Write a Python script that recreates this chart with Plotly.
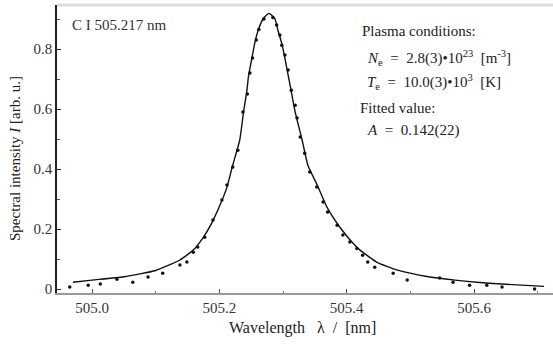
import plotly.graph_objects as go

# Fitted line
fit_x = [504.970, 505.000, 505.050, 505.100, 505.138, 505.159, 505.174, 505.188,
         505.201, 505.212, 505.221, 505.232, 505.238, 505.243, 505.246, 505.251,
         505.256, 505.261, 505.269, 505.278, 505.287, 505.292, 505.298, 505.303,
         505.308, 505.313, 505.319, 505.330, 505.339, 505.353, 505.369, 505.389,
         505.410, 505.421, 505.447, 505.480, 505.526, 505.570, 505.609, 505.650,
         505.710]
fit_y = [0.023, 0.030, 0.041, 0.062, 0.097, 0.130, 0.170, 0.220,
         0.280, 0.340, 0.413, 0.497, 0.591, 0.658, 0.713, 0.769,
         0.824, 0.863, 0.902, 0.919, 0.902, 0.863, 0.819, 0.769,
         0.713, 0.658, 0.591, 0.497, 0.413, 0.350, 0.273, 0.207,
         0.153, 0.130, 0.090, 0.063, 0.042, 0.030, 0.022, 0.016,
         0.009]

pt_x = [504.965, 504.994, 505.013, 505.039, 505.064, 505.088, 505.111, 505.138,
        505.149, 505.159, 505.166, 505.177, 505.190, 505.204, 505.212, 505.221,
        505.229, 505.237, 505.244, 505.248, 505.252, 505.258, 505.262, 505.270,
        505.284, 505.290, 505.295, 505.298, 505.303, 505.308, 505.313, 505.319,
        505.322, 505.327, 505.334, 505.342, 505.353, 505.363, 505.370, 505.385,
        505.394, 505.405, 505.416, 505.425, 505.433, 505.444, 505.473, 505.495,
        505.546, 505.567, 505.593, 505.620, 505.644, 505.695]
pt_y = [0.007, 0.013, 0.017, 0.033, 0.023, 0.040, 0.053, 0.080,
        0.090, 0.123, 0.140, 0.173, 0.230, 0.297, 0.347, 0.407,
        0.463, 0.590, 0.650, 0.720, 0.770, 0.830, 0.865, 0.900,
        0.905, 0.880, 0.847, 0.813, 0.780, 0.730, 0.663, 0.613,
        0.570, 0.507, 0.453, 0.390, 0.340, 0.290, 0.257, 0.213,
        0.180, 0.157, 0.135, 0.113, 0.090, 0.073, 0.053, 0.030,
        0.037, 0.023, 0.013, 0.013, 0.007, 0.000]

x_ticks = [505.0, 505.2, 505.4, 505.6]
x_tick_text = ["505.0", "505.2", "505.4", "505.6"]
y_ticks = [0, 0.2, 0.4, 0.6, 0.8]
y_tick_text = ["0", "0.2", "0.4", "0.6", "0.8"]

FONT = "Liberation Serif"
L, T, W, H = 57, 5, 496, 288  # plot area in pixels

fig = go.Figure()
fig.add_trace(go.Scatter(x=fit_x, y=fit_y, mode="lines", line=dict(color="#111", width=1.4),
                         line_shape="spline", line_smoothing=0.5,
                         hoverinfo="skip", showlegend=False))
fig.add_trace(go.Scatter(x=pt_x, y=pt_y, mode="markers",
                         marker=dict(color="#111", size=3.5, symbol="circle"),
                         showlegend=False))

fig.update_layout(
    width=553, height=345,
    margin=dict(l=L, r=553 - L - W, t=T, b=345 - T - H),
    paper_bgcolor="white", plot_bgcolor="white",
    font=dict(family=FONT, size=15, color="#222"),
    xaxis=dict(range=[504.945, 505.724], tickvals=x_ticks, ticktext=x_tick_text,
               showgrid=False, zeroline=False, showline=True, linecolor="#999", linewidth=1.5,
               ticks="inside", ticklen=4, tickcolor="#555",
               minor=dict(ticks="inside", ticklen=2, dtick=0.1, tickcolor="#777"),
               tickfont=dict(family=FONT, size=15, color="#333")),
    yaxis=dict(range=[-0.013, 0.947], tickvals=y_ticks, ticktext=y_tick_text,
               showgrid=False, zeroline=False, showline=True, linecolor="#222", linewidth=1.5,
               ticks="inside", ticklen=4, tickcolor="#333",
               minor=dict(ticks="inside", ticklen=3, dtick=0.1, tickcolor="#555"),
               tickfont=dict(family=FONT, size=15, color="#333")),
)

fig.add_shape(type="line", xref="paper", yref="paper", x0=0, x1=1, y0=1.0, y1=1.0,
              line=dict(color="#ddd", width=3))


def px2paper(px, py):
    return (px - L) / W, 1 - (py - T) / H


# axis titles placed as text
ax, ay = px2paper(302, 328)
fig.add_annotation(xref="paper", yref="paper", x=ax, y=ay, xanchor="center", yanchor="middle",
                   text="Wavelength   λ  /  [nm]", showarrow=False,
                   font=dict(family=FONT, size=16, color="#222"))
ax, ay = px2paper(15, 159)
fig.add_annotation(xref="paper", yref="paper", x=ax, y=ay, xanchor="center", yanchor="middle",
                   text="Spectral intensity <i>I</i> [arb. u.]", textangle=-90, showarrow=False,
                   font=dict(family=FONT, size=15, color="#222"))

ax, ay = px2paper(70, 25)
fig.add_annotation(xref="paper", yref="paper", x=ax, y=ay, xanchor="left", yanchor="middle",
                   text="C I 505.217 nm", showarrow=False, font=dict(family=FONT, size=15, color="#333"))

ann = [
    (360, 31, "Plasma conditions:"),
    (365, 58, "<i>N</i><sub>e</sub>  =  2.8(3)•10<sup>23</sup>  [m<sup>-3</sup>]"),
    (365, 82, "<i>T</i><sub>e</sub>  =  10.0(3)•10<sup>3</sup>  [K]"),
    (358, 108, "Fitted value:"),
    (365, 130, "<i>A</i>  =  0.142(22)"),
]
for px, py, t in ann:
    ax, ay = px2paper(px, py)
    fig.add_annotation(xref="paper", yref="paper", x=ax, y=ay,
                       xanchor="left", yanchor="middle", text=t, showarrow=False,
                       font=dict(family=FONT, size=15, color="#222"))

fig.write_html("out.html")
